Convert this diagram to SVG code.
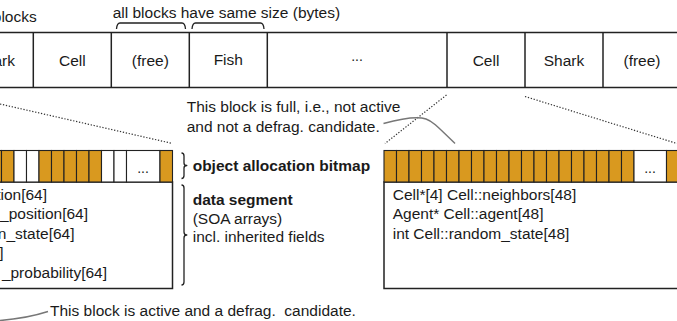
<svg xmlns="http://www.w3.org/2000/svg" width="677" height="321" viewBox="0 0 677 321">
  <style>
    text { font-family: "Liberation Sans", Arial, Helvetica, sans-serif; font-size: 15.5px; fill: #1a1a1a; }
    .b { font-weight: bold; }
    .mid { text-anchor: middle; }
    .end { text-anchor: end; }
    .dots { font-size: 14px; text-anchor: middle; }
    .frame { fill: #fff; stroke: #222; stroke-width: 1.5; }
    .on { fill: #D9991F; stroke: #222; stroke-width: 1.1; }
    .off { fill: #fff; stroke: #222; stroke-width: 1.1; }
    .line { stroke: #222; stroke-width: 1.5; fill: none; }
    .brace { stroke: #222; stroke-width: 1.3; fill: none; stroke-linejoin: round; }
    .dotted { stroke: #333; stroke-width: 1.2; stroke-dasharray: 1.3 1.7; fill: none; }
    .leader { stroke: #777; stroke-width: 1.5; fill: none; }
  </style>

  <!-- heap: row of equally sized blocks -->
  <g id="heap">
    <text class="end" x="36.7" y="22">blocks</text>
    <text x="112.7" y="17.5">all blocks have same size (bytes)</text>
    <path class="brace" d="M116.5,29 Q117,23 120,23 L182,23 Q185,23 185.5,29"/>
    <path class="brace" d="M192,29 Q192.5,23 195.5,23 L260.5,23 Q263.5,23 264,29"/>
    <rect class="frame" x="-10" y="32.5" width="700" height="55"/>
    <line class="line" x1="33.3" y1="32.5" x2="33.3" y2="87.5"/>
    <line class="line" x1="111.3" y1="32.5" x2="111.3" y2="87.5"/>
    <line class="line" x1="189.3" y1="32.5" x2="189.3" y2="87.5"/>
    <line class="line" x1="267.3" y1="32.5" x2="267.3" y2="87.5"/>
    <line class="line" x1="447" y1="32.5" x2="447" y2="87.5"/>
    <line class="line" x1="525" y1="32.5" x2="525" y2="87.5"/>
    <line class="line" x1="603" y1="32.5" x2="603" y2="87.5"/>
    <text class="end" x="15" y="65.5">ark</text>
    <text class="mid" x="72.3" y="65.5">Cell</text>
    <text class="mid" x="150.3" y="65.5">(free)</text>
    <text class="mid" x="228.3" y="65">Fish</text>
    <text class="dots" x="357" y="60.5">...</text>
    <text class="mid" x="486" y="65.5">Cell</text>
    <text class="mid" x="564" y="65.5">Shark</text>
    <text class="mid" x="642" y="65.5">(free)</text>
  </g>

  <!-- block shown on the left: partly filled bitmap + SOA data -->
  <g id="block-left">
    <rect class="frame" x="-11" y="182" width="183.5" height="106.5"/>
    <rect class="on" x="-11" y="150.5" width="12.5" height="31.5"/>
    <rect class="on" x="1.5" y="150.5" width="12.5" height="31.5"/>
    <rect class="off" x="14" y="150.5" width="12.5" height="31.5"/>
    <rect class="off" x="26.5" y="150.5" width="12.5" height="31.5"/>
    <rect class="on" x="39" y="150.5" width="12.5" height="31.5"/>
    <rect class="on" x="51.5" y="150.5" width="12.5" height="31.5"/>
    <rect class="on" x="64" y="150.5" width="12.5" height="31.5"/>
    <rect class="on" x="76.5" y="150.5" width="12.5" height="31.5"/>
    <rect class="on" x="89" y="150.5" width="12.5" height="31.5"/>
    <rect class="off" x="101.5" y="150.5" width="12.5" height="31.5"/>
    <rect class="off" x="114" y="150.5" width="12.5" height="31.5"/>
    <rect class="off" x="126.5" y="150.5" width="33.5" height="31.5"/>
    <text class="dots" x="143" y="173">...</text>
    <rect class="on" x="160" y="150.5" width="12.5" height="31.5"/>
    <text class="end" x="47" y="199.5">tion[64]</text>
    <text class="end" x="88" y="219">_position[64]</text>
    <text class="end" x="74.5" y="238.5">n_state[64]</text>
    <text class="end" x="3.5" y="258">]</text>
    <text class="end" x="107" y="277.5">_probability[64]</text>
  </g>

  <!-- legend for the block layout -->
  <g id="legend">
    <path class="brace" d="M181.5,153 Q184,153 184,156 L184,163 Q184,165.5 186.8,165.5 Q184,165.5 184,168 L184,175.5 Q184,178.5 181.5,178.5"/>
    <path class="brace" d="M181.5,185 Q184,185 184,188 L184,232 Q184,235 186.8,235 Q184,235 184,238 L184,282 Q184,285 181.5,285"/>
    <text class="b" x="192.7" y="170.5">object allocation bitmap</text>
    <text class="b" x="192.7" y="205">data segment</text>
    <text x="192.7" y="223.5">(SOA arrays)</text>
    <text x="192.7" y="242">incl. inherited fields</text>
  </g>

  <!-- block shown on the right: full Cell block -->
  <g id="block-right">
    <rect class="frame" x="384" y="182" width="310" height="106.5"/>
    <rect class="on" x="384" y="150.5" width="12.5" height="31.5"/>
    <rect class="on" x="396.5" y="150.5" width="12.5" height="31.5"/>
    <rect class="on" x="409" y="150.5" width="12.5" height="31.5"/>
    <rect class="on" x="421.5" y="150.5" width="12.5" height="31.5"/>
    <rect class="on" x="434" y="150.5" width="12.5" height="31.5"/>
    <rect class="on" x="446.5" y="150.5" width="12.5" height="31.5"/>
    <rect class="on" x="459" y="150.5" width="12.5" height="31.5"/>
    <rect class="on" x="471.5" y="150.5" width="12.5" height="31.5"/>
    <rect class="on" x="484" y="150.5" width="12.5" height="31.5"/>
    <rect class="on" x="496.5" y="150.5" width="12.5" height="31.5"/>
    <rect class="on" x="509" y="150.5" width="12.5" height="31.5"/>
    <rect class="on" x="521.5" y="150.5" width="12.5" height="31.5"/>
    <rect class="on" x="534" y="150.5" width="12.5" height="31.5"/>
    <rect class="on" x="546.5" y="150.5" width="12.5" height="31.5"/>
    <rect class="on" x="559" y="150.5" width="12.5" height="31.5"/>
    <rect class="on" x="571.5" y="150.5" width="12.5" height="31.5"/>
    <rect class="on" x="584" y="150.5" width="12.5" height="31.5"/>
    <rect class="on" x="596.5" y="150.5" width="12.5" height="31.5"/>
    <rect class="on" x="609" y="150.5" width="12.5" height="31.5"/>
    <rect class="on" x="621.5" y="150.5" width="12.5" height="31.5"/>
    <rect class="off" x="634" y="150.5" width="32.5" height="31.5"/>
    <text class="dots" x="650" y="173">...</text>
    <rect class="on" x="666.5" y="150.5" width="12.5" height="31.5"/>
    <text x="392.7" y="199.5">Cell*[4] Cell::neighbors[48]</text>
    <text x="392.7" y="219">Agent* Cell::agent[48]</text>
    <text x="392.7" y="238.5">int Cell::random_state[48]</text>
  </g>

  <!-- notes -->
  <g id="note-full">
    <text x="186.7" y="111.5">This block is full, i.e., not active</text>
    <text x="186.7" y="131.5">and not a defrag. candidate.</text>
  </g>
  <g id="note-active">
    <text x="50" y="316">This block is active and a defrag.&#160; candidate.</text>
  </g>

  <!-- zoom lines and note leaders -->
  <g id="connectors">
    <line class="dotted" x1="0" y1="104" x2="172.5" y2="143.5"/>
    <line class="dotted" x1="446.5" y1="95" x2="385" y2="143.5"/>
    <line class="dotted" x1="525" y1="96.5" x2="677" y2="143.5"/>
    <path class="leader" d="M383.5,123.5 C400,119 417,116 426,119 C432,121 436,125 455,143.5"/>
    <path class="leader" d="M0,320.5 C18,319 34,316 48,311.5"/>
  </g>
</svg>
